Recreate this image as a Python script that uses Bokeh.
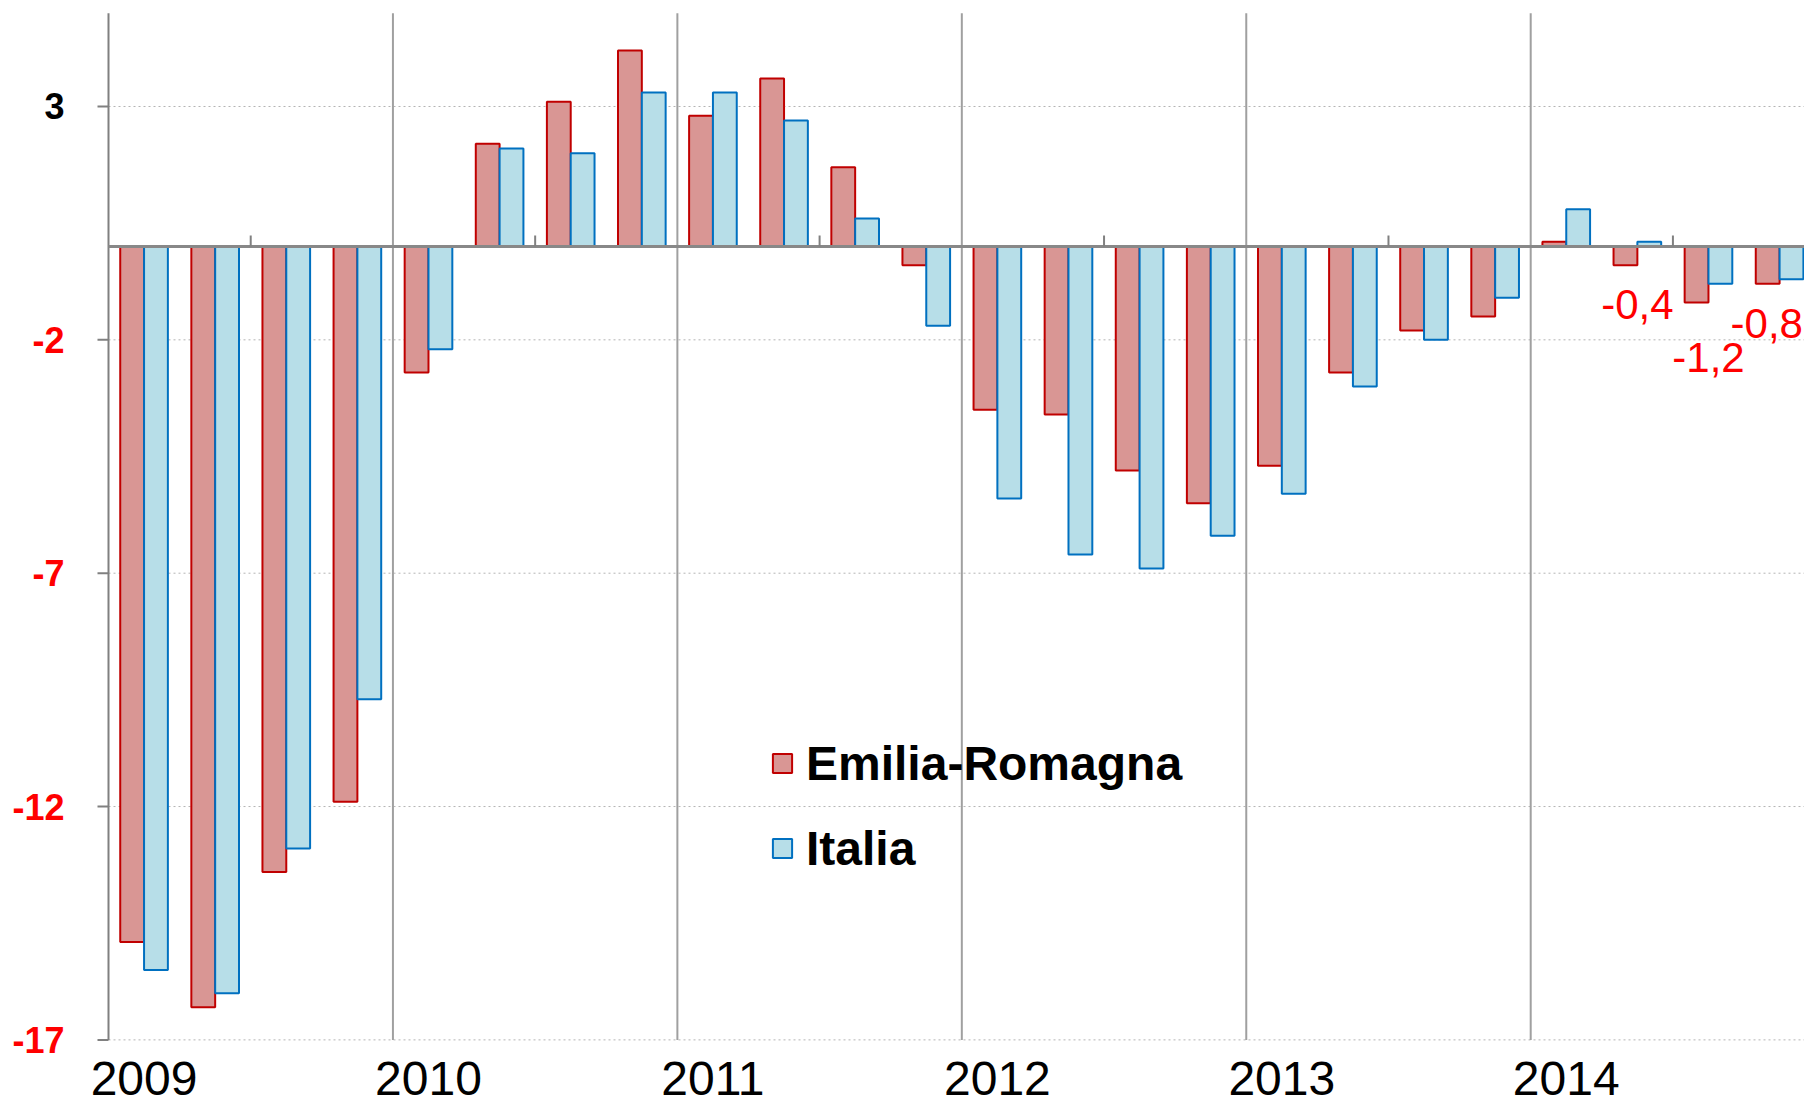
from bokeh.plotting import figure
from bokeh.models import Range1d, ColumnDataSource, Legend, LegendItem
from bokeh.embed import file_html
from bokeh.resources import INLINE
from bokeh.core.properties import value

# ---------------- data ----------------
years = ["2009", "2010", "2011", "2012", "2013", "2014"]
series_names = ["Emilia-Romagna", "Italia"]
emilia = [-14.9, -16.3, -13.4, -11.9,
          -2.7, 2.2, 3.1, 4.2,
          2.8, 3.6, 1.7, -0.4,
          -3.5, -3.6, -4.8, -5.5,
          -4.7, -2.7, -1.8, -1.5,
          0.1, -0.4, -1.2, -0.8]
italia = [-15.5, -16.0, -12.9, -9.7,
          -2.2, 2.1, 2.0, 3.3,
          3.3, 2.7, 0.6, -1.7,
          -5.4, -6.6, -6.9, -6.2,
          -5.3, -3.0, -2.0, -1.1,
          0.8, 0.1, -0.8, -0.7]
y_ticks = [3, -2, -7, -12, -17]
y_top = 5
annotated_quarters = [21, 22, 23]   # Emilia-Romagna values labelled in red

# ---------------- layout / styles ----------------
FIG_W, FIG_H = 1804, 1104
AXIS_X_PX = 108          # y-axis position inside the figure
PX_PER_Q = 71.11         # pixels per quarter
ZERO_Y_PX = 246          # zero line position inside the figure
PX_PER_UNIT = 46.67      # pixels per percentage point
Q_PER_YEAR = 4
BAR_W = 0.335
ann_y = [-1.24, -2.38, -1.65]
ann_dx = [0.0, 0.0, -0.18]
FONT = "Liberation Sans"
ER_FILL, ER_LINE = "#D99694", "#C00000"
IT_FILL, IT_LINE = "#B7DEE8", "#0070C0"
AXIS_COL = "#808080"

px_x = 1.0 / PX_PER_Q
px_y = 1.0 / PX_PER_UNIT
x_end = (FIG_W - AXIS_X_PX) * px_x
y_bottom = min(y_ticks)

n = len(emilia)
q_center = [i + 0.5 for i in range(n)]

p = figure(width=FIG_W, height=FIG_H, output_backend="svg", toolbar_location=None,
           x_range=Range1d(-AXIS_X_PX * px_x, x_end),
           y_range=Range1d(-(FIG_H - ZERO_Y_PX) * px_y, ZERO_Y_PX * px_y),
           x_axis_location=None, y_axis_location=None,
           min_border=0)
p.outline_line_color = None
p.background_fill_color = "white"
p.border_fill_color = "white"
p.grid.visible = False

# dotted horizontal gridlines
p.segment(x0=[0] * len(y_ticks), y0=y_ticks, x1=[x_end] * len(y_ticks), y1=y_ticks,
          line_color="#b4b4b4", line_width=1, line_dash="2 3")

# bars
src = ColumnDataSource(dict(
    x_er=[c - BAR_W / 2 for c in q_center],
    x_it=[c + BAR_W / 2 for c in q_center],
    er=emilia, it=italia))
r_er = p.vbar(x="x_er", top="er", bottom=0, width=BAR_W, source=src,
              fill_color=ER_FILL, line_color=ER_LINE, line_width=2)
r_it = p.vbar(x="x_it", top="it", bottom=0, width=BAR_W, source=src,
              fill_color=IT_FILL, line_color=IT_LINE, line_width=2)

# year separators
sep = [i * Q_PER_YEAR for i in range(1, len(years))]
p.segment(x0=sep, y0=[y_bottom] * len(sep), x1=sep, y1=[y_top] * len(sep),
          line_color="#a0a0a0", line_width=2)

# y axis line + ticks
p.segment(x0=[0], y0=[y_bottom], x1=[0], y1=[y_top], line_color=AXIS_COL, line_width=2)
p.segment(x0=[-11 * px_x] * len(y_ticks), y0=y_ticks, x1=[0] * len(y_ticks), y1=y_ticks,
          line_color=AXIS_COL, line_width=2)

# zero line
p.segment(x0=[0], y0=[0], x1=[x_end], y1=[0], line_color="#888888", line_width=3)

# mid-year ticks on the zero line
mid = [i * Q_PER_YEAR + Q_PER_YEAR / 2 for i in range(len(years))]
p.segment(x0=mid, y0=[0] * len(mid), x1=mid, y1=[11 * px_y] * len(mid),
          line_color=AXIS_COL, line_width=2)

# y tick labels (3 in black, negatives in red)
p.text(x=[-44 * px_x] * len(y_ticks), y=y_ticks, text=[str(t) for t in y_ticks],
       text_color=["black" if t > 0 else "#FF0000" for t in y_ticks],
       text_font=value(FONT), text_font_style="bold", text_font_size="36px",
       text_align="right", text_baseline="middle")

# year labels
p.text(x=[i * Q_PER_YEAR + 0.5 for i in range(len(years))],
       y=[y_bottom - 39 * px_y] * len(years), text=years,
       text_font=value(FONT), text_font_size="48px", text_color="black",
       text_align="center", text_baseline="middle")

# red value annotations
ann_text = [f"{emilia[q]:.1f}".replace(".", ",") for q in annotated_quarters]
p.text(x=[q_center[q] + d for q, d in zip(annotated_quarters, ann_dx)], y=ann_y,
       text=ann_text, text_font=value(FONT), text_font_size="42px",
       text_color="#FF0000", text_align="center", text_baseline="middle")

legend = Legend(items=[LegendItem(label=series_names[0], renderers=[r_er]),
                       LegendItem(label=series_names[1], renderers=[r_it])],
                location=(770, 226), orientation="vertical",
                glyph_width=24, glyph_height=24, label_height=60, spacing=25,
                padding=0, margin=0, label_standoff=12,
                label_text_font=FONT, label_text_font_style="bold",
                label_text_font_size="48px", label_text_color="black",
                border_line_color=None, background_fill_alpha=0)
p.add_layout(legend)

open("out.html", "w").write(file_html(p, INLINE))
